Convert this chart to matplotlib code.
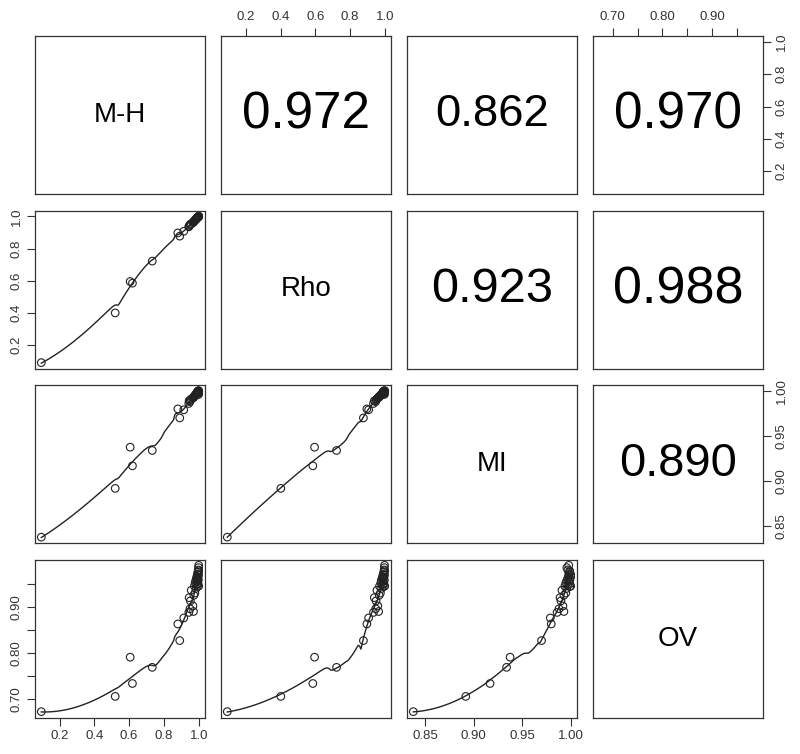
import numpy as np
import matplotlib.pyplot as plt

plt.rcParams['font.family'] = ['Liberation Sans', 'DejaVu Sans']

names = ["M-H", "Rho", "MI", "OV"]

# values
mh = [0.095, 0.520, 0.606, 0.619, 0.733, 0.880, 0.891, 0.914,
      0.943, 0.950, 0.945, 0.952, 0.957, 0.967, 0.970, 0.972, 0.975, 0.978,
      0.980, 0.983, 0.985, 0.987, 0.988, 0.990, 0.991, 0.992, 0.993, 0.994,
      0.995, 0.996, 0.997, 0.998, 0.998, 0.999, 0.999, 1.000, 1.000, 1.000]
rho = [0.091, 0.400, 0.595, 0.585, 0.722, 0.897, 0.877, 0.907,
       0.935, 0.948, 0.940, 0.950, 0.955, 0.960, 0.965, 0.968, 0.970, 0.975,
       0.978, 0.980, 0.982, 0.985, 0.987, 0.988, 0.990, 0.991, 0.992, 0.993,
       0.994, 0.995, 0.996, 0.997, 0.998, 0.998, 0.999, 0.999, 1.000, 1.000]
mi = [0.838, 0.892, 0.9376, 0.917, 0.934, 0.980, 0.970, 0.979,
      0.986, 0.988, 0.989, 0.990, 0.991, 0.992, 0.993, 0.993, 0.994, 0.995,
      0.995, 0.996, 0.996, 0.997, 0.997, 0.998, 0.998, 0.998, 0.999, 0.999,
      0.999, 0.999, 1.000, 0.997, 0.999, 0.996, 1.000, 0.998, 1.000, 0.999]
ov = [0.673, 0.706, 0.791, 0.734, 0.769, 0.863, 0.827, 0.876,
      0.888, 0.896, 0.920, 0.913, 0.936, 0.902, 0.890, 0.925, 0.945, 0.930,
      0.952, 0.957, 0.940, 0.962, 0.948, 0.966, 0.955, 0.970, 0.944, 0.960,
      0.975, 0.950, 0.965, 0.980, 0.958, 0.985, 0.970, 0.990, 0.945, 0.978]

# correlation text shown in the upper panels: (row, col) -> value
cor_pairs = [(0, 1), (0, 2), (0, 3), (1, 2), (1, 3), (2, 3)]
cor_values = [0.972, 0.862, 0.970, 0.923, 0.988, 0.890]

ticks = [[0.2, 0.4, 0.6, 0.8, 1.0],
         [0.2, 0.4, 0.6, 0.8, 1.0],
         [0.85, 0.90, 0.95, 1.00],
         [0.70, 0.75, 0.80, 0.85, 0.90, 0.95]]
tick_labels = [["0.2", "0.4", "0.6", "0.8", "1.0"],
               ["0.2", "0.4", "0.6", "0.8", "1.0"],
               ["0.85", "0.90", "0.95", "1.00"],
               ["0.70", "", "0.80", "", "0.90", ""]]


def loess(x, y, span=0.75, n_out=120):
    # local quadratic fit with tricube weights, like R's loess() defaults
    x = np.asarray(x, float)
    y = np.asarray(y, float)
    n = len(x)
    q = int(np.floor(n * span))
    grid = np.linspace(x.min(), x.max(), n_out)
    fit = np.zeros(n_out)
    for k, x0 in enumerate(grid):
        d = np.abs(x - x0)
        h = np.sort(d)[q - 1]
        h = max(h, 1e-9)
        w = np.clip(d / h, 0, 1)
        w = (1 - w ** 3) ** 3
        X = np.column_stack([np.ones(n), x - x0, (x - x0) ** 2])
        WX = X * w[:, None]
        beta = np.linalg.lstsq(WX.T @ X, WX.T @ y, rcond=None)[0]
        fit[k] = beta[0]
    return grid, fit


data = [np.array(mh), np.array(rho), np.array(mi), np.array(ov)]
lims = []
for v in data:
    pad = 0.04 * (v.max() - v.min())
    lims.append((v.min() - pad, v.max() + pad))

fig = plt.figure(figsize=(8, 7.54), dpi=100)
W, H = 800, 754
left0, colstep, pw = 35, 186, 170
top0, rowstep, ph = 36, 174.5, 158

for i in range(4):
    for j in range(4):
        x0 = left0 + j * colstep
        y0 = top0 + i * rowstep
        ax = fig.add_axes([x0 / W, 1 - (y0 + ph) / H, pw / W, ph / H])
        ax.set_xlim(lims[j])
        ax.set_ylim(lims[i])
        for sp in ax.spines.values():
            sp.set_linewidth(0.9)
            sp.set_color('#333333')
        ax.tick_params(direction='out', length=6, width=0.8, labelsize=9.5,
                       colors='#333333', labelcolor='#333333', pad=3,
                       bottom=False, top=False, left=False, right=False,
                       labelbottom=False, labeltop=False, labelleft=False, labelright=False)
        if i == j:
            ax.text(0.5, 0.5, names[i], transform=ax.transAxes, ha='center',
                    va='center', fontsize=20)
        elif i < j:
            r = cor_values[cor_pairs.index((i, j))]
            ax.text(0.5, 0.5, "%.3f" % r, transform=ax.transAxes, ha='center',
                    va='center', fontsize=38 * r)
        else:
            ax.scatter(data[j], data[i], s=30, facecolors='none',
                       edgecolors='#222222', linewidths=0.8)
            sx, sy = loess(data[j], data[i])
            ax.plot(sx, sy, color='#222222', lw=1.0)

        # alternating outer axes like R pairs()
        if i == 0 and j % 2 == 1:
            ax.tick_params(top=True, labeltop=True)
            ax.set_xticks(ticks[j])
            ax.set_xticklabels(tick_labels[j])
        if i == 3 and j % 2 == 0:
            ax.tick_params(bottom=True, labelbottom=True)
            ax.set_xticks(ticks[j])
            ax.set_xticklabels(tick_labels[j])
        if j == 0 and i % 2 == 1:
            ax.tick_params(left=True, labelleft=True)
            ax.set_yticks(ticks[i])
            ax.set_yticklabels(tick_labels[i], rotation=90, va='center')
        if j == 3 and i % 2 == 0:
            ax.tick_params(right=True, labelright=True)
            ax.set_yticks(ticks[i])
            ax.set_yticklabels(tick_labels[i], rotation=90, va='center')

fig.savefig("out.png", dpi=100)
